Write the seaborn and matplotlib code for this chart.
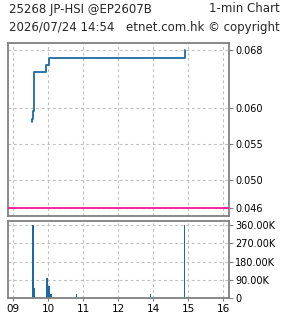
import matplotlib
matplotlib.use("Agg")
import matplotlib.pyplot as plt
import seaborn as sns
import pandas as pd
from matplotlib.ticker import FixedLocator, FuncFormatter

# ---- data ----
title_left = "25268 JP-HSI @EP2607B"
title_right = "1-min Chart"
stamp = "2026/07/24 14:54"
source = "etnet.com.hk \u00a9 copyright"

price_times = ["09:32", "09:32", "09:34", "09:34", "09:36", "09:57", "10:01", "14:54"]
price_values = [0.0580, 0.0585, 0.0586, 0.0595, 0.0650, 0.0660, 0.0670, 0.0680]
ref_level = 0.046

vol_times = ["09:34", "09:36", "09:58", "10:01", "10:05", "10:48", "13:55", "14:54"]
vol_values = [360000, 49000, 98000, 59000, 20000, 20000, 20000, 360000]

price_ticks = [0.046, 0.050, 0.055, 0.060, 0.068]
vol_ticks = [0, 90000, 180000, 270000, 360000]
vol_tick_labels = ["0", "90.00K", "180.00K", "270.00K", "360.00K"]
hour_ticks = [0, 60, 120, 180, 240, 300, 360]
hour_labels = ["09", "10", "11", "12", "14", "15", "16"]


def tmin(s):
    h, m = map(int, s.split(":"))
    if h < 12 or (h == 12 and m == 0):
        return (h - 9) * 60 + m
    return (h - 13) * 60 + m + 180


price_df = pd.DataFrame({"t": [tmin(s) for s in price_times], "p": price_values})
vol_df = pd.DataFrame({"t": [tmin(s) for s in vol_times], "v": vol_values})

sns.set_style("white")
plt.rcParams["font.family"] = ["DejaVu Sans"]

W, H = 285, 318
fig = plt.figure(figsize=(W / 100, H / 100), dpi=100)

def px_axes(l, t, r, b):
    return fig.add_axes([l / W, 1 - b / H, (r - l) / W, (b - t) / H])

ax = px_axes(8, 43, 229, 216)
axv = px_axes(8, 221, 229, 298)

line_col = "#1b6aa5"
grid_col = "#c0c0c0"
spine_col = "#808080"
xlim = (-9, 370)

sns.lineplot(data=price_df, x="t", y="p", ax=ax, drawstyle="steps-post",
             color=line_col, linewidth=1.3, sort=False, estimator=None)
ax.axhline(ref_level, color="#ff1493", linewidth=1.3, zorder=3)
ax.set_xlim(*xlim)
ax.set_ylim(0.04492, 0.06902)

sns.barplot(data=vol_df, x="t", y="v", ax=axv, native_scale=True, width=1.2,
            color=line_col, saturation=1, edgecolor="none")
axv.set_xlim(*xlim)
axv.set_ylim(0, 380000)

for a in (ax, axv):
    a.set_xlabel("")
    a.set_ylabel("")
    a.xaxis.set_major_locator(FixedLocator(hour_ticks))
    for s in a.spines.values():
        s.set_color(spine_col)
        s.set_linewidth(1.3)
    a.grid(True, color=grid_col, linestyle=(0, (2.5, 2.5)), linewidth=0.8)
    a.set_axisbelow(True)
    a.yaxis.tick_right()
    a.tick_params(axis="y", which="both", right=True, length=3, width=0.8,
                  color=spine_col, labelsize=7, pad=1.5, labelcolor="black")

ax.yaxis.set_major_locator(FixedLocator(price_ticks))
ax.yaxis.set_major_formatter(FuncFormatter(lambda v, p: f"{v:.3f}"))
ax.tick_params(axis="x", bottom=False, labelbottom=False)

axv.yaxis.set_major_locator(FixedLocator(vol_ticks))
axv.set_yticklabels(vol_tick_labels)
axv.set_xticklabels(hour_labels)
axv.tick_params(axis="x", bottom=True, length=2, width=0.8, color=spine_col,
                labelsize=7.5, pad=2, labelcolor="black")

fig.text(9 / W, 1 - 9 / H, title_left, fontsize=8.5, va="center", ha="left")
fig.text(280 / W, 1 - 9 / H, title_right, fontsize=8.5, va="center", ha="right")
fig.text(9 / W, 1 - 27 / H, stamp, fontsize=8.5, va="center", ha="left")
fig.text(280 / W, 1 - 27 / H, source, fontsize=8.5, va="center", ha="right")

fig.savefig("out.png", dpi=100, facecolor="white")
